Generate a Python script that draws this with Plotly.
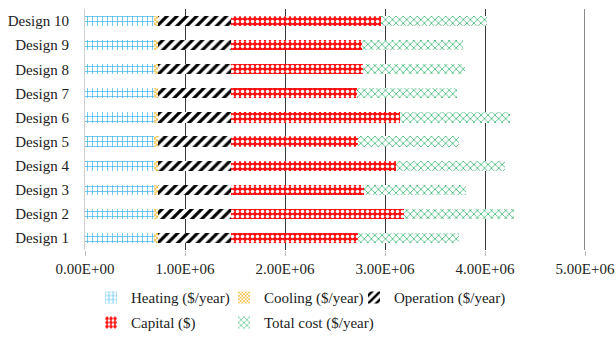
import plotly.graph_objects as go

designs = [f"Design {i}" for i in range(1, 11)]

# Annual / capital cost components per design (USD)
heating = [0.69e6] * 10
cooling = [0.035e6] * 10
operation = [0.735e6] * 10
capital = [1.27e6, 1.725e6, 1.325e6, 1.65e6, 1.27e6, 1.69e6, 1.26e6, 1.315e6, 1.31e6, 1.50e6]
total_cost = [1.01e6, 1.10e6, 1.023e6, 1.09e6, 1.01e6, 1.10e6, 1.0e6, 1.02e6, 1.01e6, 1.056e6]

x_ticks = [0, 1e6, 2e6, 3e6, 4e6, 5e6]
x_tick_text = [f"{v:.2E}" for v in x_ticks]

FONT = "Liberation Serif"

# name, values, pattern fg, pattern bg, shape, size, solidity, legend box
series = [
    ("Heating ($/year)", heating, "#2fb0ea", "white", "+", 5, 0.25, "legend"),
    ("Cooling ($/year)", cooling, "#f2b72a", "white", "x", 3, 0.5, "legend2"),
    ("Operation ($/year)", operation, "#000000", "white", "/", 7, 0.45, "legend3"),
    ("Capital ($)", capital, "white", "#ff1010", ".", 5, 0.4, "legend4"),
    ("Total cost ($/year)", total_cost, "#35b56e", "white", "x", 5, 0.28, "legend5"),
]

fig = go.Figure()
for name, vals, fg, bg, shape, size, sol, leg in series:
    fig.add_trace(go.Bar(
        name=name,
        y=designs,
        x=vals,
        orientation="h",
        legend=leg,
        showlegend=True,
        marker=dict(
            color=fg if bg == "white" else bg,
            line=dict(width=0),
            pattern=dict(shape=shape, fgcolor=fg, bgcolor=bg,
                         size=size, solidity=sol, fillmode="replace"),
        ),
    ))

legend_font = dict(family=FONT, size=15, color="#222222")
row1_y = -0.13
row2_y = row1_y - 25 / 241
col_x = [0.012, 0.278, 0.538]


def legend_box(x, y):
    return dict(orientation="h", x=x, xanchor="left", y=y, yanchor="top",
                font=legend_font, bgcolor="rgba(0,0,0,0)")


fig.update_layout(
    width=616,
    height=340,
    showlegend=True,
    barmode="stack",
    bargap=0.58,
    paper_bgcolor="white",
    plot_bgcolor="white",
    margin=dict(l=84.5, r=31, t=9, b=90, autoexpand=False),
    font=dict(family=FONT, size=15, color="#222222"),
    legend=legend_box(col_x[0], row1_y),
    legend2=legend_box(col_x[1], row1_y),
    legend3=legend_box(col_x[2], row1_y),
    legend4=legend_box(col_x[0], row2_y),
    legend5=legend_box(col_x[1], row2_y),
    xaxis=dict(
        range=[0, 5e6],
        tickvals=x_ticks,
        ticktext=x_tick_text,
        showgrid=True,
        gridcolor="#3a3a3a",
        gridwidth=1.2,
        zeroline=False,
        showline=False,
        ticks="outside",
        ticklen=5,
        tickcolor="#bbbbbb",
        tickfont=dict(family=FONT, size=15, color="#222222"),
    ),
    yaxis=dict(
        showgrid=False,
        showline=True,
        linecolor="#cfcfcf",
        linewidth=1,
        ticks="",
        ticklabelstandoff=12,
        tickfont=dict(family=FONT, size=15, color="#222222"),
    ),
    shapes=[dict(
        type="line", xref="x", yref="paper",
        x0=5e6, x1=5e6, y0=0, y1=1,
        line=dict(color="#8a8a8a", width=2),
    )],
)

fig.write_html("out.html")
